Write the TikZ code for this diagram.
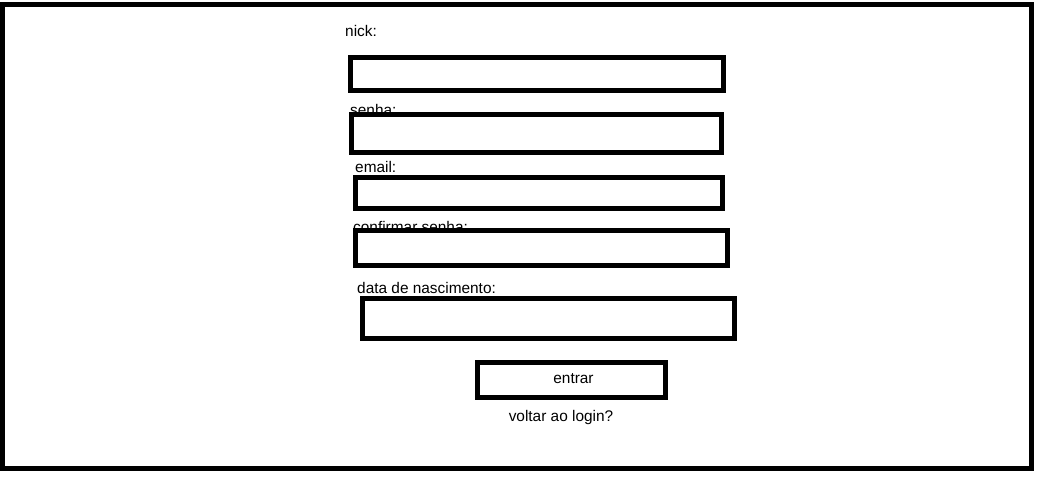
\documentclass[tikz,border=0pt]{standalone}
\usepackage{fontspec}
\setmainfont{Liberation Sans}
\begin{document}
\begin{tikzpicture}[x=1pt,y=-1pt,
  field/.style={draw=black,line width=5pt,fill=white,inner sep=0pt,anchor=center},
  lbl/.style={inner sep=0pt,anchor=base west,font=\fontsize{15.4}{18}\selectfont},
  ctr/.style={inner sep=0pt,anchor=base,font=\fontsize{15.4}{18}\selectfont}]
\useasboundingbox (0,0) rectangle (1040,476);
\node[draw=black,line width=5pt,inner sep=0pt,minimum width=1029.5pt,minimum height=464pt] (frame) at (516.75,236.5) {};
% labels
\node[lbl] (lnick) at (345,37) {nick:};
\node[lbl] (lsenha) at (350,115) {senha:};
\node[lbl] (lemail) at (355,172) {email:};
\node[lbl] (lconf) at (353,232) {confirmar senha:};
\node[lbl] (ldata) at (357,293) {data de nascimento:};
% fields
\node[field,minimum width=373pt,minimum height=33pt] (fnick) at (537,74) {};
\node[field,minimum width=370pt,minimum height=38pt] (fsenha) at (536.5,133.5) {};
\node[field,minimum width=367pt,minimum height=31pt] (femail) at (539,193) {};
\node[field,minimum width=372pt,minimum height=35pt] (fconf) at (541.5,248) {};
\node[field,minimum width=372pt,minimum height=40pt] (fdata) at (548.5,318.5) {};
\node[field,minimum width=188pt,minimum height=35pt] (bentrar) at (571.5,380) {};
\node[ctr] (tentrar) at (573.5,383) {entrar};
\node[ctr] (tvoltar) at (561,421) {voltar ao login?};
\end{tikzpicture}
\end{document}
